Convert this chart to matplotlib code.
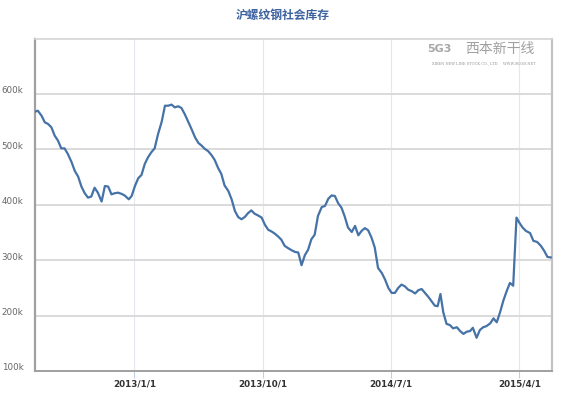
#!/usr/bin/env python3
# plot.py
# 沪螺纹钢社会库存 weekly line chart

import pandas as pd
import matplotlib
matplotlib.use("Agg")
import matplotlib.pyplot as plt
from matplotlib.transforms import ScaledTranslation

plt.rcParams['font.family'] = ['Noto Sans CJK SC', 'DejaVu Sans']

TITLE = "沪螺纹钢社会库存"

week_dates = [
    "2012-06-02", "2012-06-09", "2012-06-17", "2012-06-24", "2012-07-01", "2012-07-08",
    "2012-07-15", "2012-07-22", "2012-07-29", "2012-08-05", "2012-08-12", "2012-08-20",
    "2012-08-27", "2012-09-03", "2012-09-10", "2012-09-17", "2012-09-24", "2012-10-01",
    "2012-10-08", "2012-10-15", "2012-10-23", "2012-10-30", "2012-11-06", "2012-11-13",
    "2012-11-20", "2012-11-27", "2012-12-04", "2012-12-11", "2012-12-20", "2012-12-26",
    "2013-01-02", "2013-01-09", "2013-01-16", "2013-01-23", "2013-01-30", "2013-02-06",
    "2013-02-13", "2013-02-20", "2013-02-28", "2013-03-07", "2013-03-14", "2013-03-21",
    "2013-03-28", "2013-04-04", "2013-04-11", "2013-04-18", "2013-04-25", "2013-05-02",
    "2013-05-10", "2013-05-17", "2013-05-24", "2013-05-31", "2013-06-07", "2013-06-14",
    "2013-06-21", "2013-06-28", "2013-07-05", "2013-07-12", "2013-07-20", "2013-07-27",
    "2013-08-03", "2013-08-10", "2013-08-17", "2013-08-24", "2013-08-31", "2013-09-07",
    "2013-09-14", "2013-09-21", "2013-09-29", "2013-10-06", "2013-10-13", "2013-10-20",
    "2013-10-27", "2013-11-03", "2013-11-10", "2013-11-17", "2013-11-24", "2013-12-02",
    "2013-12-09", "2013-12-16", "2013-12-23", "2013-12-30", "2014-01-06", "2014-01-13",
    "2014-01-20", "2014-01-27", "2014-02-04", "2014-02-11", "2014-02-18", "2014-02-25",
    "2014-03-04", "2014-03-11", "2014-03-18", "2014-03-25", "2014-04-01", "2014-04-09",
    "2014-04-16", "2014-04-23", "2014-04-30", "2014-05-07", "2014-05-14", "2014-05-21",
    "2014-05-28", "2014-06-04", "2014-06-12", "2014-06-19", "2014-06-26", "2014-07-03",
    "2014-07-10", "2014-07-17", "2014-07-24", "2014-07-31", "2014-08-07", "2014-08-15",
    "2014-08-22", "2014-08-29", "2014-09-05", "2014-09-12", "2014-09-19", "2014-09-26",
    "2014-10-03", "2014-10-09", "2014-10-15", "2014-10-21", "2014-10-28", "2014-11-04",
    "2014-11-11", "2014-11-19", "2014-11-26", "2014-12-03", "2014-12-10", "2014-12-17",
    "2014-12-23", "2014-12-31", "2015-01-07", "2015-01-14", "2015-01-21", "2015-01-29",
    "2015-02-05", "2015-02-12", "2015-02-19", "2015-02-26", "2015-03-05", "2015-03-12",
    "2015-03-19", "2015-03-26", "2015-04-01", "2015-04-08", "2015-04-15", "2015-04-24",
    "2015-05-01", "2015-05-09", "2015-05-17", "2015-05-24", "2015-05-31", "2015-06-07",
]

# stock, thousand tonnes
stock_k = [
    568, 570, 561, 549, 546, 540,
    525, 516, 502, 502, 492, 477,
    461, 451, 433, 421, 413, 415,
    431, 422, 406, 434, 433, 419,
    421, 422, 420, 417, 410, 416,
    434, 448, 454, 474, 486, 495,
    502, 527, 550, 579, 579, 581,
    576, 578, 575, 564, 551, 538,
    522, 512, 507, 501, 497, 490,
    481, 467, 456, 435, 425, 410,
    389, 378, 374, 378, 385, 390,
    384, 381, 377, 364, 355, 352,
    348, 343, 337, 326, 322, 318,
    315, 314, 291, 309, 319, 338,
    346, 380, 396, 398, 411, 417,
    416, 403, 395, 379, 359, 351,
    362, 345, 353, 358, 354, 341,
    323, 286, 277, 265, 250, 241,
    241, 250, 256, 253, 247, 244,
    240, 246, 248, 241, 234, 226,
    218, 217, 239, 206, 185, 183,
    177, 179, 172, 167, 171, 172,
    178, 160, 174, 179, 181, 186,
    195, 188, 206, 227, 244, 259,
    254, 377, 368, 359, 353, 349,
    335, 333, 326, 317, 306, 305,
]

x_tick_dates = ["2013-01-01", "2013-10-01", "2014-07-01", "2015-04-01"]
x_tick_labels = ["2013/1/1", "2013/10/1", "2014/7/1", "2015/4/1"]
y_ticks = [100, 200, 300, 400, 500, 600]
y_tick_labels = ["100k", "200k", "300k", "400k", "500k", "600k"]


def main():
    dates = pd.to_datetime(week_dates)

    fig = plt.figure(figsize=(5.66, 3.97), dpi=100)
    ax = fig.add_axes([0.0613, 0.0655, 0.9134, 0.837])

    ax.plot(dates, stock_k, color="#4572A7", lw=1.6, solid_joinstyle="round", zorder=3)

    ax.set_xlim(pd.Timestamp("2012-06-02 10:00"), pd.Timestamp("2015-06-09"))
    ax.set_ylim(100, 700)

    ax.set_xticks(pd.to_datetime(x_tick_dates))
    ax.set_xticklabels(x_tick_labels, fontsize=6.3, fontweight="bold", color="#333333",
                       family="DejaVu Sans")
    ax.set_yticks(y_ticks)
    ax.set_yticklabels(y_tick_labels, fontsize=6.3, color="#666666", family="DejaVu Sans")

    ax.tick_params(axis="x", length=5, width=0.8, color="#c0d0e0", pad=1)
    ax.tick_params(axis="y", length=0, pad=8)
    for lbl in ax.get_yticklabels():
        lbl.set_transform(lbl.get_transform() + ScaledTranslation(0, 3 / 72, fig.dpi_scale_trans))

    ax.yaxis.grid(True, color="#d8d8d8", lw=1.3)
    ax.xaxis.grid(True, color="#e4e8ee", lw=0.8)
    ax.set_axisbelow(True)

    ax.spines["left"].set_color("#a0a0a0")
    ax.spines["left"].set_linewidth(1.6)
    ax.spines["bottom"].set_color("#a0a0a0")
    ax.spines["bottom"].set_linewidth(1.4)
    ax.spines["top"].set_color("#d4d4d4")
    ax.spines["top"].set_linewidth(1.2)
    ax.spines["right"].set_color("#c4c4c4")
    ax.spines["right"].set_linewidth(1.6)

    fig.text(0.5, 0.962, TITLE, ha="center", va="center", fontsize=8.5,
             fontweight="bold", color="#3d62a0")

    # watermark logo
    ax.text(0.782, 0.968, "5G3", transform=ax.transAxes, ha="center", va="center",
            fontsize=8, fontweight="bold", color="#a8a8a8", family="DejaVu Sans")
    ax.text(0.900, 0.970, "西本新干线", transform=ax.transAxes, ha="center", va="center",
            fontsize=10, color="#a0a0a0")
    ax.text(0.869, 0.927, "XIBEN NEW LINE STOCK CO., LTD.    WWW.96369.NET",
            transform=ax.transAxes, ha="center", va="center", fontsize=2.6,
            color="#909090", family="DejaVu Serif")

    fig.savefig("out.png", dpi=100)


if __name__ == "__main__":
    main()
